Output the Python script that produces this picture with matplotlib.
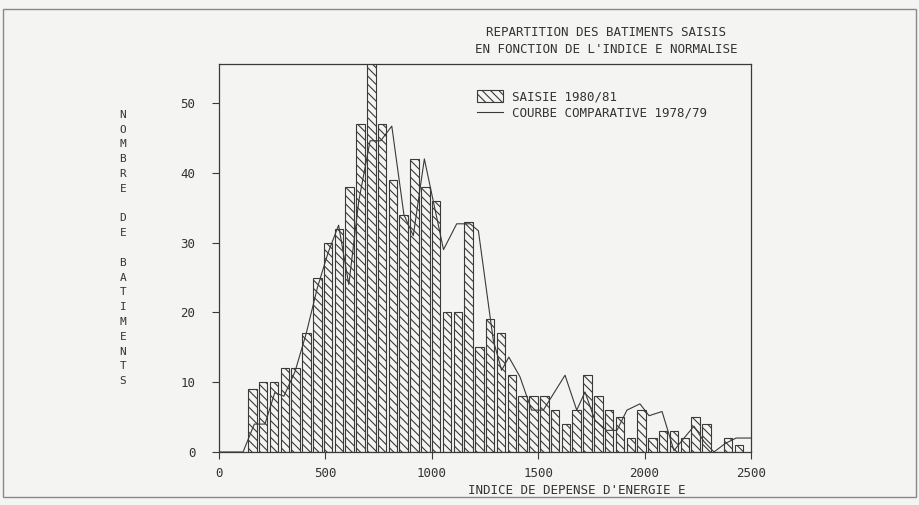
import matplotlib
matplotlib.use("Agg")
import matplotlib.pyplot as plt
from matplotlib.patches import Rectangle
import numpy as np

# number of buildings per class of the normalised E index, survey 1980/81
counts_1980 = [9, 10, 10, 12, 12, 17, 25, 30, 32, 38, 47, 56, 47, 39, 34, 42,
               38, 36, 20, 20, 33, 15, 19, 17, 11, 8, 8, 8, 6, 4, 6, 11, 8, 6,
               5, 2, 6, 2, 3, 3, 2, 5, 4, 0, 2, 1]
first_class = 157     # centre of the first class (as drawn)
class_step = 50.8     # spacing of the classes (as drawn)

# comparison curve 1978/79
curve_x = [0, 113, 166, 216, 262, 305, 357, 410, 462, 512, 562, 610, 657, 710,
           760, 812, 869, 913, 965, 1055, 1117, 1180, 1219, 1289, 1328, 1362,
           1414, 1469, 1524, 1626, 1681, 1720, 1767, 1822, 1870, 1917, 1978,
           2021, 2082, 2138, 2180, 2232, 2279, 2326, 2378, 2430, 2500]
curve_y = [0, 0, 4, 4, 8.5, 8, 11.5, 17, 23.5, 28.5, 32.5, 24, 36, 44.6,
           44.6, 46.7, 34, 31, 42, 29, 32.7, 32.7, 31.7, 16, 11.7, 13.6,
           10.8, 6, 6, 11, 6, 8.6, 4.5, 3.1, 3.1, 6, 6.9,
           5.2, 5.8, 0.2, 1.8, 3.7, 1.5, 0, 1.2, 2, 2]

xticks = [0, 500, 1000, 1500, 2000, 2500]
yticks = [0, 10, 20, 30, 40, 50]

bg = "#f4f4f3"
ink = "#3a3a3a"
txt = "#333333"
plt.rcParams["font.family"] = "DejaVu Sans Mono"
plt.rcParams["hatch.linewidth"] = 0.8
plt.rcParams["hatch.color"] = ink

W, H = 919, 505
fig = plt.figure(figsize=(W / 100, H / 100), dpi=100, facecolor=bg)
ax = fig.add_axes([219 / W, 1 - 452 / H, 532 / W, 388 / H])
ax.set_facecolor(bg)

x = first_class + class_step * np.arange(len(counts_1980))
bars = ax.bar(x, counts_1980, width=40, facecolor=bg, edgecolor=ink, linewidth=0.8,
              hatch="\\\\\\\\", label="SAISIE 1980/81")
line, = ax.plot(curve_x, curve_y, color=ink, linewidth=0.8,
                label="COURBE COMPARATIVE 1978/79")

ax.set_xlim(0, 2500)
ax.set_ylim(0, 55.6)
ax.set_xticks(xticks)
ax.set_yticks(yticks)
ax.tick_params(direction="out", length=5, width=0.8, colors=ink,
               labelsize=9, labelcolor=txt)
ax.tick_params(axis="y", pad=12)
ax.tick_params(axis="x", pad=6)
for s in ax.spines.values():
    s.set_color(ink)
    s.set_linewidth(0.9)

ax.set_xlabel("INDICE DE DEPENSE D'ENERGIE E", fontsize=9, color=txt)
ax.xaxis.set_label_coords(0.673, -0.083)

ax.set_title("REPARTITION DES BATIMENTS SAISIS\nEN FONCTION DE L'INDICE E NORMALISE",
             fontsize=9, color=txt, x=0.727, pad=8, linespacing=1.35)

# stacked vertical axis title
fig.text(123 / W, 1 - 248 / H, "\n".join("NOMBRE DE BATIMENTS"),
         ha="center", va="center", fontsize=8, color=txt, linespacing=1.6)

leg = ax.legend([bars, line], [bars.get_label(), line.get_label()],
                loc="upper left", bbox_to_anchor=(0.485, 0.933), frameon=False,
                fontsize=9, handlelength=2.1, handleheight=1.1, handletextpad=0.7,
                labelspacing=0.28, borderpad=0, borderaxespad=0)
for t in leg.get_texts():
    t.set_color(txt)

fig.patches.append(Rectangle((3 / W, 8 / H), 913 / W, 488 / H, transform=fig.transFigure,
                             fill=False, edgecolor="#888888", linewidth=1))

fig.savefig("out.png", dpi=100, facecolor=bg)
